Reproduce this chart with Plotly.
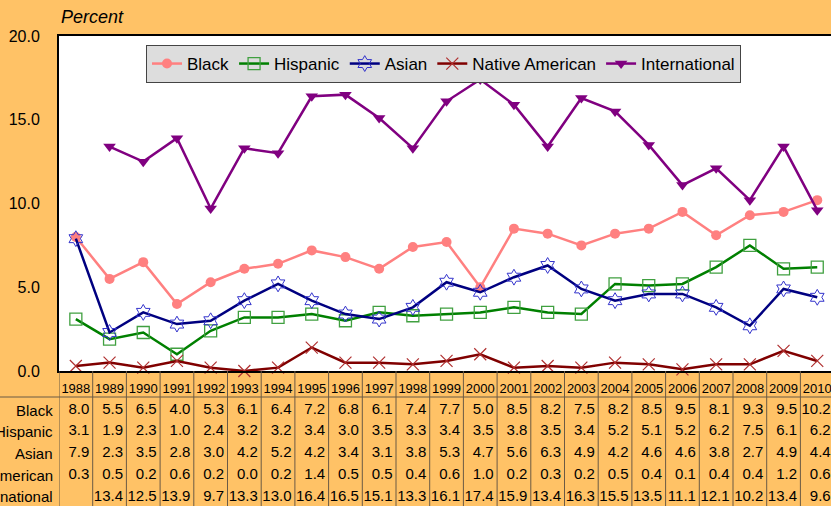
import plotly.graph_objects as go

# chart values
years = list(range(1988, 2011))
black = [8.0, 5.5, 6.5, 4.0, 5.3, 6.1, 6.4, 7.2, 6.8, 6.1, 7.4, 7.7, 5.0, 8.5, 8.2, 7.5, 8.2, 8.5, 9.5, 8.1, 9.3, 9.5, 10.2]
hispanic = [3.1, 1.9, 2.3, 1.0, 2.4, 3.2, 3.2, 3.4, 3.0, 3.5, 3.3, 3.4, 3.5, 3.8, 3.5, 3.4, 5.2, 5.1, 5.2, 6.2, 7.5, 6.1, 6.2]
asian = [7.9, 2.3, 3.5, 2.8, 3.0, 4.2, 5.2, 4.2, 3.4, 3.1, 3.8, 5.3, 4.7, 5.6, 6.3, 4.9, 4.2, 4.6, 4.6, 3.8, 2.7, 4.9, 4.4]
native = [0.3, 0.5, 0.2, 0.6, 0.2, 0.0, 0.2, 1.4, 0.5, 0.5, 0.4, 0.6, 1.0, 0.2, 0.3, 0.2, 0.5, 0.4, 0.1, 0.4, 0.4, 1.2, 0.6]
international = [None, 13.4, 12.5, 13.9, 9.7, 13.3, 13.0, 16.4, 16.5, 15.1, 13.3, 16.1, 17.4, 15.9, 13.4, 16.3, 15.5, 13.5, 11.1, 12.1, 10.2, 13.4, 9.6]
y_ticks = [0, 5, 10, 15, 20]

font_family = "Liberation Sans, Arial, sans-serif"
bg = "#FFC266"
grid_col = "#6B5A45"

# page geometry (pixels)
W, H = 831, 506
L, T = 59, 36
table_h = 135
paper_h = H - T
split = table_h / paper_h
col_px = 33.7
x_lo = years[0] - 0.5
x_hi = x_lo + (W - L) / col_px

series = [
    ("Black", black, dict(color="#FF8080", width=2.5), dict(symbol="circle", size=10, color="#FF8080")),
    ("Hispanic", hispanic, dict(color="#008000", width=2.5),
     dict(symbol="square-open", size=12, color="#40A040", line=dict(width=1.3))),
    ("Asian", asian, dict(color="#000080", width=2.5),
     dict(symbol="hexagram-open", size=12, color="#3333CC", line=dict(width=1))),
    ("Native American", native, dict(color="#800000", width=2.5),
     dict(symbol="x-thin-open", size=12, color="#B03030", line=dict(width=1.2))),
    ("International", international, dict(color="#800080", width=2.5),
     dict(symbol="triangle-down", size=11, color="#800080")),
]

fig = go.Figure()

for name, vals, line, marker in series:
    fig.add_trace(go.Scatter(x=years, y=vals, name=name, mode="lines+markers",
                             line=line, marker=marker, connectgaps=False,
                             xaxis="x", yaxis="y", cliponaxis=False))

# data table under the chart
year_row = -19
row_y = [-39, -60.7, -82.4, -104.1, -125.8]

# column rules of the table
bounds = [y - 0.5 for y in years] + [years[-1] + 0.5]
gx, gy = [], []
for b in bounds:
    gx += [b, b, None]
    gy += [0, -table_h, None]
fig.add_trace(go.Scatter(x=gx, y=gy, mode="lines", line=dict(color=grid_col, width=1),
                         xaxis="x2", yaxis="y2", showlegend=False, hoverinfo="skip"))

fig.add_trace(go.Scatter(x=years, y=[year_row] * len(years), mode="text",
                         text=[str(y) for y in years], textposition="middle center",
                         textfont=dict(size=13, color="black", family=font_family),
                         xaxis="x2", yaxis="y2", showlegend=False, hoverinfo="skip",
                         cliponaxis=False))

for (name, vals, _, _), ry in zip(series, row_y):
    fig.add_trace(go.Scatter(x=[y + 0.4 for y in years], y=[ry] * len(years), mode="text",
                             text=["" if v is None else "%.1f" % v for v in vals],
                             textposition="middle left",
                             textfont=dict(size=15, color="black", family=font_family),
                             xaxis="x2", yaxis="y2", showlegend=False, hoverinfo="skip",
                             cliponaxis=False))
    fig.add_annotation(text=name, xref="paper", x=0, xanchor="right", xshift=-4,
                       yref="y2", y=ry, yanchor="middle", showarrow=False,
                       font=dict(size=15, color="black", family=font_family))

# white plotting area
fig.add_shape(type="rect", xref="x domain", yref="y domain", x0=0, x1=1, y0=0, y1=1,
              fillcolor="white", line_width=0, layer="below")

# line under the year row
line_y = split * (1 - 26 / table_h)
fig.add_shape(type="line", xref="paper", x0=-L / (W - L), x1=1,
              yref="paper", y0=line_y, y1=line_y,
              line=dict(color=grid_col, width=1))

fig.add_annotation(text="<i>Percent</i>", xref="paper", x=0.0, xanchor="left",
                   yref="paper", y=1 + (T - 17) / paper_h, yanchor="middle", showarrow=False,
                   font=dict(size=18, color="black", family=font_family))

fig.update_layout(
    width=W,
    height=H,
    margin=dict(l=L, r=0, t=T, b=0, autoexpand=False),
    paper_bgcolor=bg,
    plot_bgcolor="rgba(0,0,0,0)",
    font=dict(family=font_family, size=16, color="black"),
    xaxis=dict(range=[x_lo, x_hi], domain=[0, 1], anchor="y", showticklabels=False,
               showgrid=False, zeroline=False, showline=True, mirror=True,
               linecolor="black", linewidth=2, ticks="", automargin=False),
    yaxis=dict(range=[0, 20], domain=[split, 1], anchor="x", tickvals=y_ticks,
               tickformat=".1f", showgrid=False, zeroline=False, showline=True,
               mirror=True, linecolor="black", linewidth=2, ticks="",
               ticklabelstandoff=14, tickfont=dict(size=16), automargin=False),
    xaxis2=dict(range=[x_lo, x_hi], domain=[0, 1], anchor="y2", showticklabels=False,
                showgrid=False, zeroline=False, showline=False, ticks="", automargin=False),
    yaxis2=dict(range=[-table_h, 0], domain=[0, split], anchor="x2", showticklabels=False,
                showgrid=False, zeroline=False, showline=False, ticks="", automargin=False),
    legend=dict(orientation="h", x=(146 - L) / (W - L), xanchor="left",
                y=1 - (45 - T) / paper_h, yanchor="top",
                bgcolor="#DDDDDD", bordercolor="#444444", borderwidth=1,
                font=dict(size=17, color="black"), itemwidth=30,
                itemclick=False),
    showlegend=True,
)

fig.write_html("out.html", config={"displayModeBar": False},
               post_script="document.body.style.margin='0';")
